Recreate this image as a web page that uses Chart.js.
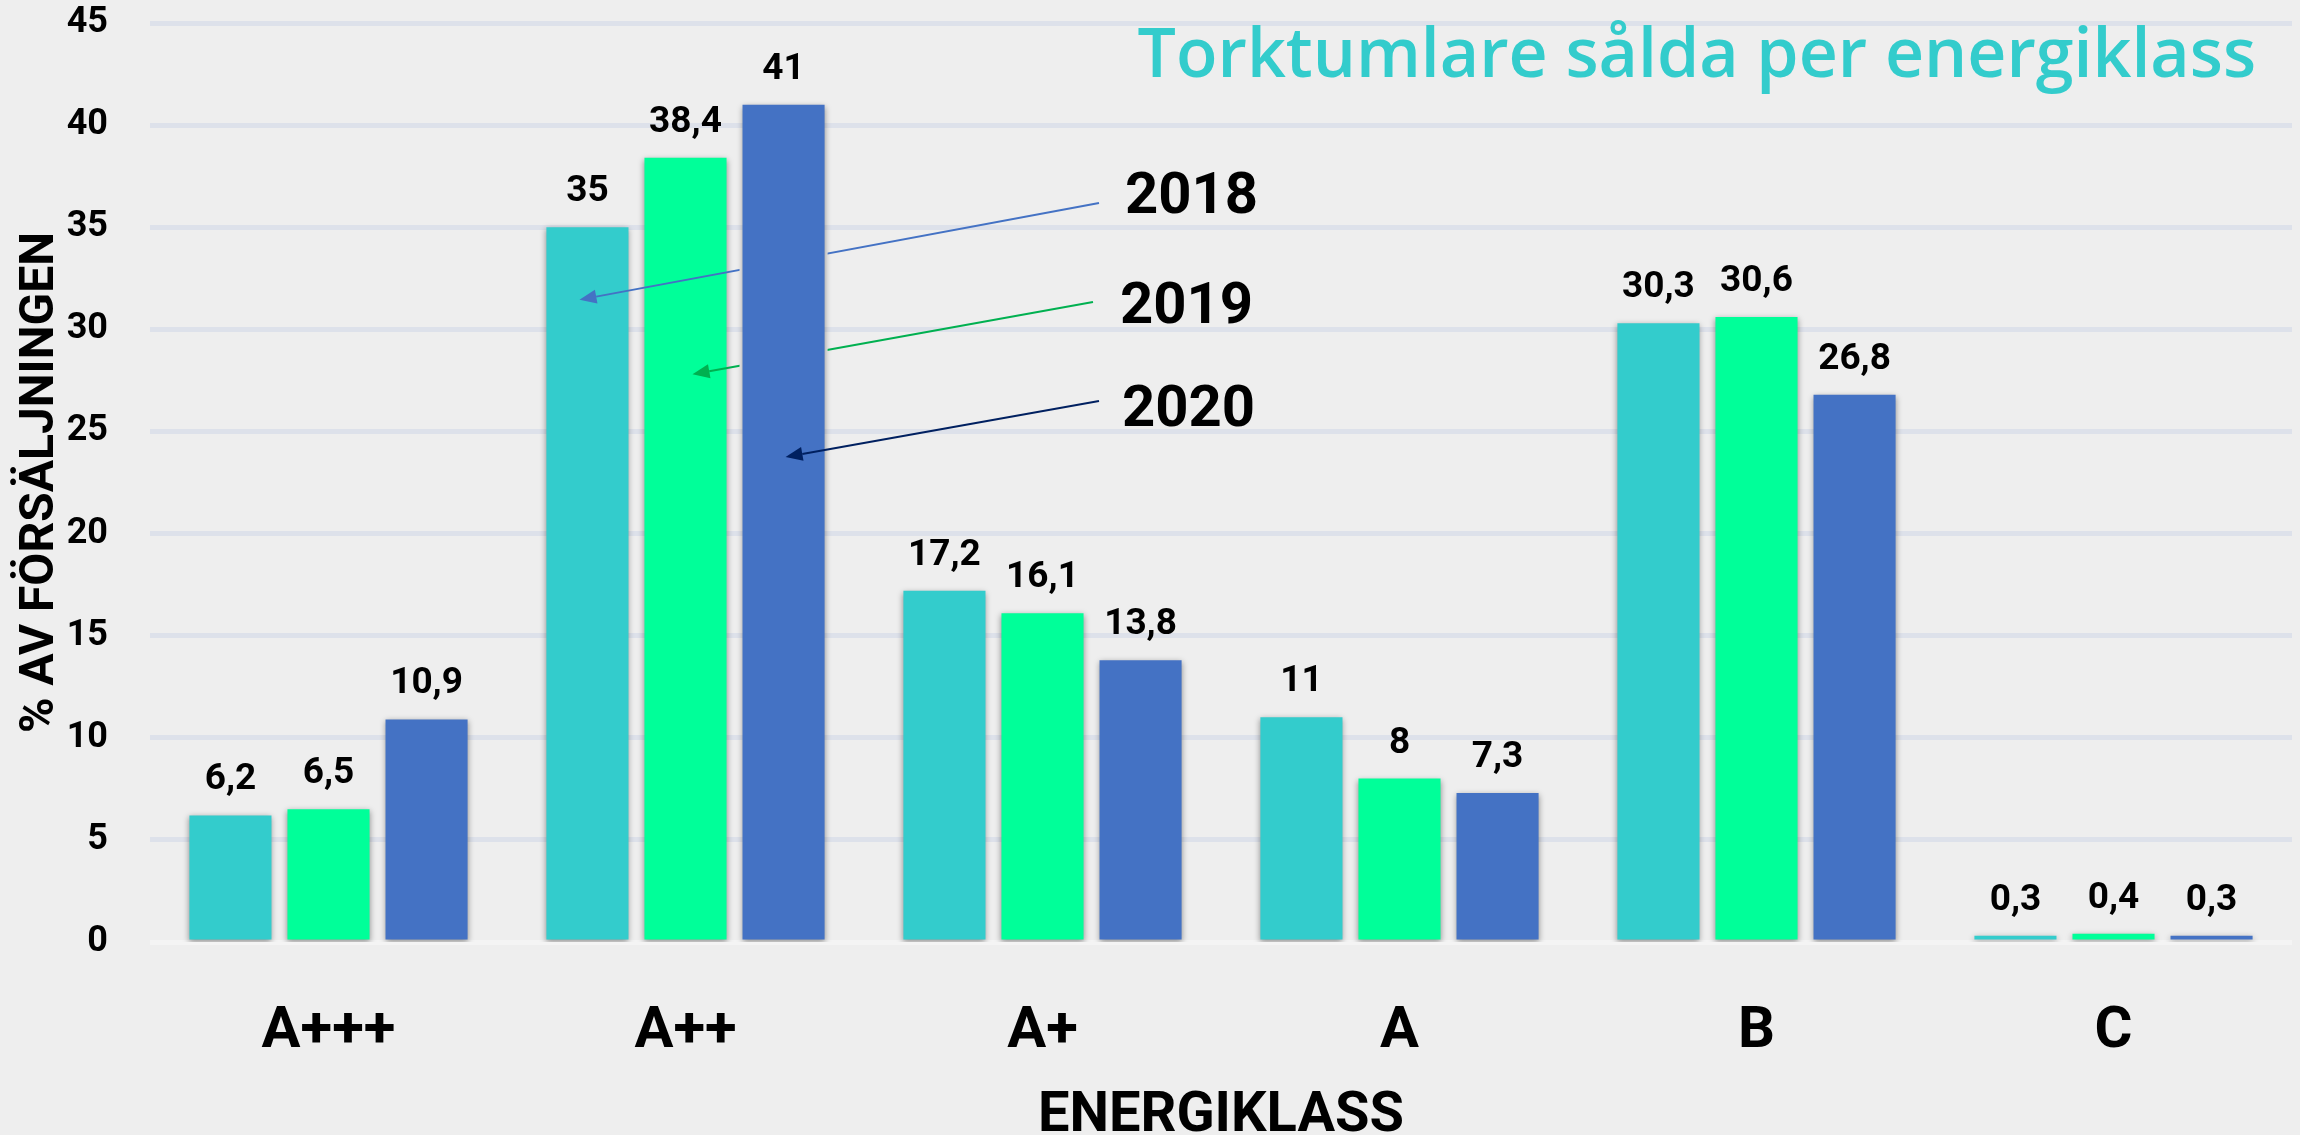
<!DOCTYPE html>
<html>
<head>
<meta charset="utf-8">
<script src="https://cdn.jsdelivr.net/npm/chart.js@4.4.1/dist/chart.umd.min.js"></script>
<style>
  html, body { margin: 0; padding: 0; background: #eeeeee; }
</style>
</head>
<body>
<canvas id="myChart" width="2300" height="1135"></canvas>
<script>
// chart data
const categories = ['A+++', 'A++', 'A+', 'A', 'B', 'C'];
const years = ['2018', '2019', '2020'];
const sales2018 = [6.2, 35, 17.2, 11, 30.3, 0.3];
const sales2019 = [6.5, 38.4, 16.1, 8, 30.6, 0.4];
const sales2020 = [10.9, 41, 13.8, 7.3, 26.8, 0.3];
const yMin = 0, yMax = 45, yStep = 5;

const barColors = ['#33CCCC', '#00FF99', '#4472C4'];
const arrowColors = ['#4472C4', '#00B050', '#002060'];
const font = 'Roboto';

// year callouts with arrows pointing into the A++ bars
const callouts = [
    { dataset: 0, textX: 1125, textY: 213, fromX: 1099, fromY: 203, tipValue: 31.45, tipDx: -8 },
    { dataset: 1, textX: 1120, textY: 323, fromX: 1093, fromY: 302, tipValue: 27.8, tipDx: 7 },
    { dataset: 2, textX: 1122, textY: 426, fromX: 1099, fromY: 401, tipValue: 23.75, tipDx: 2 }
];

function drawCallout(chart, c, behindBlue) {
    const ctx = chart.ctx;
    const bar = chart.getDatasetMeta(c.dataset).data[1];
    const tx = bar.x + c.tipDx;
    const ty = chart.scales.y.getPixelForValue(c.tipValue);
    const ang = Math.atan2(ty - c.fromY, tx - c.fromX);
    const len = 17, half = 7;
    const bx = tx - Math.cos(ang) * len, by = ty - Math.sin(ang) * len;
    ctx.save();
    if (behindBlue) {
        // 2018 and 2019 arrows pass under the 2020 bars
        ctx.beginPath();
        ctx.rect(0, 0, chart.width, chart.height);
        chart.getDatasetMeta(2).data.forEach(b => {
            ctx.rect(b.x - b.width / 2 - 3, b.y, b.width + 6, b.base - b.y);
        });
        ctx.clip('evenodd');
    }
    ctx.strokeStyle = arrowColors[c.dataset];
    ctx.fillStyle = arrowColors[c.dataset];
    ctx.lineWidth = 2;
    ctx.beginPath();
    ctx.moveTo(c.fromX, c.fromY);
    ctx.lineTo(bx, by);
    ctx.stroke();
    ctx.beginPath();
    ctx.moveTo(tx, ty);
    ctx.lineTo(bx + Math.sin(ang) * half, by - Math.cos(ang) * half);
    ctx.lineTo(bx - Math.sin(ang) * half, by + Math.cos(ang) * half);
    ctx.closePath();
    ctx.fill();
    ctx.restore();
    ctx.save();
    ctx.fillStyle = '#000';
    ctx.font = 'bold 58px ' + font;
    ctx.textAlign = 'left';
    ctx.textBaseline = 'alphabetic';
    ctx.fillText(years[c.dataset], c.textX, c.textY);
    ctx.restore();
}

const decorPlugin = {
    id: 'decor',
    beforeDraw(chart) {
        const ctx = chart.ctx;
        ctx.save();
        ctx.fillStyle = '#eeeeee';
        ctx.fillRect(0, 0, chart.width, chart.height);
        ctx.restore();
    },
    beforeDatasetDraw(chart) {
        const ctx = chart.ctx;
        ctx.save();
        ctx.shadowColor = 'rgba(0,0,0,0.4)';
        ctx.shadowBlur = 6;
        ctx.shadowOffsetX = 0;
        ctx.shadowOffsetY = 2;
    },
    afterDatasetDraw(chart) {
        chart.ctx.restore();
    },
    afterDatasetsDraw(chart) {
        const ctx = chart.ctx;
        drawCallout(chart, callouts[0], true);
        drawCallout(chart, callouts[1], true);
        drawCallout(chart, callouts[2], false);
        // value labels
        ctx.save();
        ctx.fillStyle = '#000';
        ctx.font = 'bold 37px ' + font;
        ctx.textAlign = 'center';
        ctx.textBaseline = 'alphabetic';
        chart.data.datasets.forEach((ds, i) => {
            chart.getDatasetMeta(i).data.forEach((bar, j) => {
                ctx.fillText(String(ds.data[j]).replace('.', ','), bar.x, bar.y - 26);
            });
        });
        // title
        ctx.fillStyle = '#33CCCC';
        ctx.font = '600 68px "Open Sans"';
        ctx.textAlign = 'right';
        ctx.fillText('Torktumlare sålda per energiklass', 2256, 77);
        ctx.restore();
    }
};

const ctx = document.getElementById('myChart').getContext('2d');
const myChart = new Chart(ctx, {
    type: 'bar',
    data: {
        labels: categories,
        datasets: [
            { label: years[0], data: sales2018, backgroundColor: barColors[0] },
            { label: years[1], data: sales2019, backgroundColor: barColors[1] },
            { label: years[2], data: sales2020, backgroundColor: barColors[2] }
        ]
    },
    options: {
        responsive: false,
        animation: false,
        categoryPercentage: 0.824,
        barPercentage: 0.837,
        layout: { padding: { top: 0, right: 8, bottom: 0, left: 0 } },
        plugins: {
            legend: { display: false },
            tooltip: { enabled: false }
        },
        scales: {
            x: {
                grid: { display: false },
                border: { display: false },
                ticks: {
                    color: '#000',
                    padding: 48,
                    font: { family: font, size: 58, weight: 'bold' }
                },
                title: {
                    display: true,
                    text: 'ENERGIKLASS',
                    color: '#000',
                    padding: { top: 0, bottom: 0 },
                    font: { family: font, size: 56, weight: 'bold', lineHeight: 0.65 }
                },
                afterFit: s => { s.height = 193; }
            },
            y: {
                min: yMin,
                max: yMax,
                border: { display: false },
                grid: {
                    drawTicks: false,
                    lineWidth: 5,
                    color: c => c.tick && c.tick.value === 0 ? '#f4f4f4' : '#dde1ea'
                },
                ticks: {
                    stepSize: yStep,
                    color: '#000',
                    padding: 42,
                    font: { family: font, size: 36, weight: 'bold' }
                },
                title: {
                    display: true,
                    text: '% AV FÖRSÄLJNINGEN',
                    color: '#000',
                    padding: { top: 12, bottom: 0 },
                    font: { family: font, size: 48, weight: 'bold' }
                },
                afterFit: s => { s.width = 150; s.paddingTop = 23; }
            }
        }
    },
    plugins: [decorPlugin]
});
</script>
</body>
</html>
